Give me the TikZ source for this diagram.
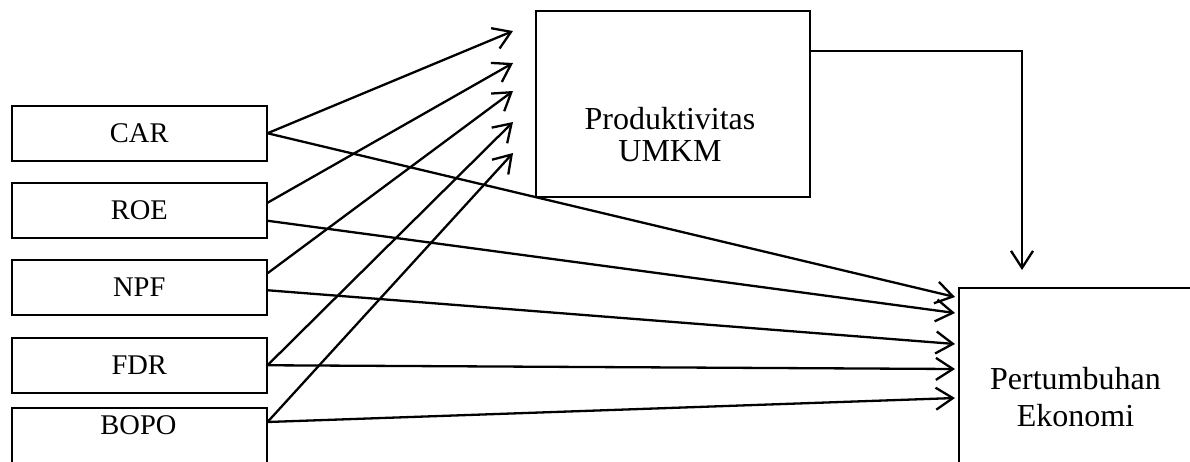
\documentclass[tikz,border=0pt]{standalone}
\usepackage{fontspec}
\setmainfont{Liberation Serif}
\usetikzlibrary{arrows.meta,calc}
\begin{document}
\begin{tikzpicture}[x=1pt,y=-1pt,
  varbox/.style={draw,line width=1.5pt,minimum width=255pt,minimum height=55pt,inner sep=0pt,anchor=north west},
  bigbox/.style={draw,line width=1.5pt,inner sep=0pt,anchor=north west},
  lbl/.style={font=\fontsize{28.5}{30}\selectfont,inner sep=0pt},
  big/.style={font=\fontsize{32}{32}\selectfont,inner sep=0pt,anchor=base},
  conn/.style={line width=2.3pt,-{Straight Barb[length=17pt,width=22pt,line width=2.3pt]}}]
\useasboundingbox (0,0) rectangle (1190,461);
\clip (0,0) rectangle (1190,461);
% left boxes
\node[varbox] (car) at (11,105) {};
\node[varbox] (roe) at (11,182) {};
\node[varbox] (npf) at (11,259) {};
\node[varbox] (fdr) at (11,337) {};
\node[varbox,minimum height=90pt] (bopo) at (11,407) {};
\node[lbl] (cart) at (car.center) {CAR};
\node[lbl] (roet) at (roe.center) {ROE};
\node[lbl] (npft) at (npf.center) {NPF};
\node[lbl] (fdrt) at (fdr.center) {FDR};
\node[lbl,anchor=base] (bopot) at (138.5,434) {BOPO};
% right boxes
\node[bigbox,minimum width=274pt,minimum height=186pt] (prod) at (535,10) {};
\node[big] (prodt1) at (670,129) {Produktivitas};
\node[big] (prodt2) at (670,161) {UMKM};
\node[bigbox,minimum width=320pt,minimum height=260pt] (pert) at (958,287) {};
\node[big] (pertt1) at (1075.5,389) {Pertumbuhan};
\node[big] (pertt2) at (1075.5,426) {Ekonomi};
% arrow ends
\coordinate (p1) at (513,31);
\coordinate (p2) at (513,63);
\coordinate (p3) at (513,91);
\coordinate (p4) at (513,122);
\coordinate (p5) at (513,153);
\coordinate (q1) at (955,297);
\coordinate (q2) at (955,313);
\coordinate (q3) at (955,344);
\coordinate (q4) at (955,369);
\coordinate (q5) at (955,398);
\coordinate (pin) at (1022,270);
% connectors to Produktivitas
\draw[conn] (car.east) -- (p1);
\draw[conn] ($(roe.east)+(0,-7.5)$) -- (p2);
\draw[conn] ($(npf.east)+(0,-14)$) -- (p3);
\draw[conn] (fdr.east) -- (p4);
\draw[conn] ($(bopo.north east)+(0,15)$) -- (p5);
% connectors to Pertumbuhan
\draw[conn] (car.east) -- (q1);
\draw[conn] ($(roe.east)+(0,10.5)$) -- (q2);
\draw[conn] ($(npf.east)+(0,3)$) -- (q3);
\draw[conn] (fdr.east) -- (q4);
\draw[conn] ($(bopo.north east)+(0,15)$) -- (q5);
% Produktivitas to Pertumbuhan
\draw[conn] ($(prod.north east)+(0,41)$) -| (pin);
\end{tikzpicture}
\end{document}
